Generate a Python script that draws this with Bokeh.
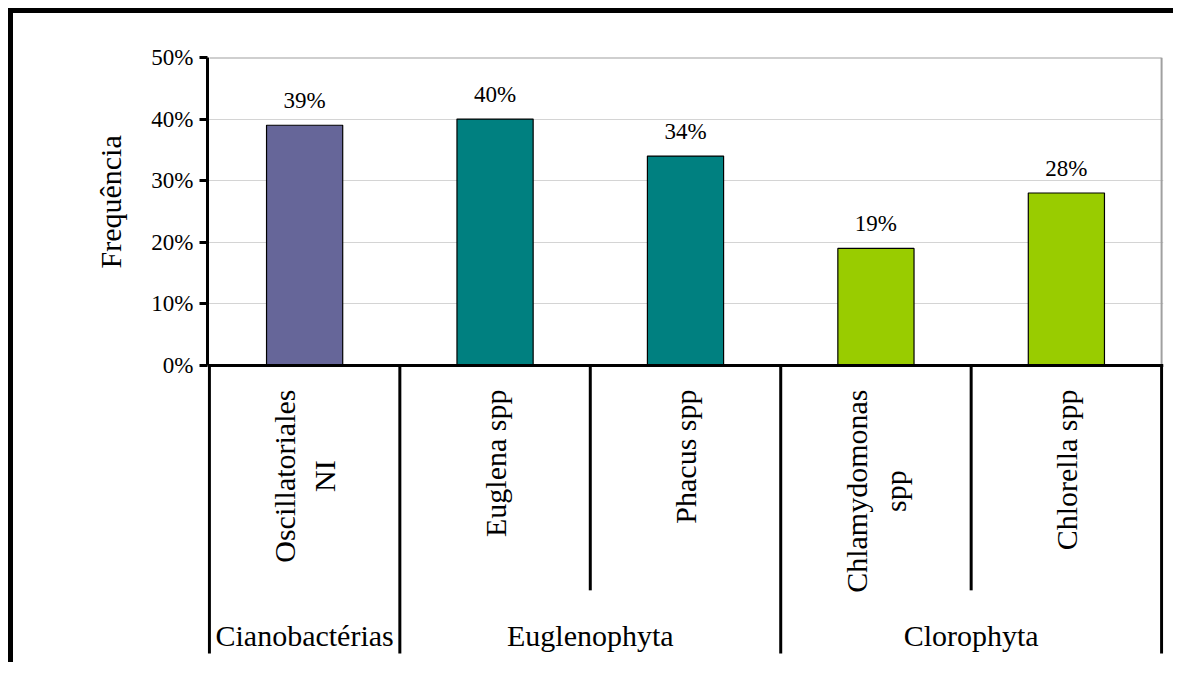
import math
from bokeh.plotting import figure
from bokeh.models import Range1d, FixedTicker, NumeralTickFormatter, ColumnDataSource, Title
from bokeh.core.properties import value
from bokeh.embed import file_html
from bokeh.resources import INLINE

# ---- data ----
species = ["Oscillatoriales\nNI", "Euglena spp", "Phacus spp", "Chlamydomonas\nspp", "Chlorella spp"]
frequency = [0.39, 0.40, 0.34, 0.19, 0.28]
freq_labels = ["39%", "40%", "34%", "19%", "28%"]
groups = ["Cianobactérias", "Euglenophyta", "Clorophyta"]
group_sizes = [1, 2, 2]
group_colors = ["#666699", "#008080", "#99CC00"]
y_ticks = [0.0, 0.1, 0.2, 0.3, 0.4, 0.5]
y_title = "Frequência"

# ---- derived ----
xs = list(range(len(species)))
bar_colors = []
for c, n in zip(group_colors, group_sizes):
    bar_colors += [c] * n
bounds = [-0.5]
for n in group_sizes:
    bounds.append(bounds[-1] + n)
group_centers = [(a + b) / 2 for a, b in zip(bounds[:-1], bounds[1:])]
inner = [x + 0.5 for x in xs[:-1] if (x + 0.5) not in bounds]

FONT = value("Liberation Serif")
W, H = 1165, 654
TOP, LEFT, RIGHT = 44, 194, 15
PX_PER_UNIT = 616.0
frame_h = H - TOP
y0 = 0.5 - frame_h / PX_PER_UNIT

p = figure(width=W, height=H, x_range=Range1d(-0.51, 4.51), y_range=Range1d(y0, 0.5),
           output_backend="svg", toolbar_location=None, x_axis_location=None,
           min_border_left=LEFT, min_border_right=RIGHT, min_border_top=TOP, min_border_bottom=0)
p.styles = {"border-top": "5px solid black", "border-left": "5px solid black",
            "margin-top": "8px", "margin-left": "8px"}
p.outline_line_color = None
p.background_fill_color = "white"
p.border_fill_color = "white"
p.xgrid.visible = False

ticker = FixedTicker(ticks=y_ticks)
ax = p.yaxis[0]
ax.bounds = (0, 0.5)
ax.ticker = ticker
ax.formatter = NumeralTickFormatter(format="0%")
ax.minor_tick_line_color = None
ax.major_tick_in = 0
ax.major_tick_out = 8
ax.major_tick_line_width = 3
ax.major_tick_line_color = "black"
ax.axis_line_width = 3
ax.axis_line_color = "black"
ax.major_label_text_font = "Liberation Serif"
ax.major_label_text_font_size = "23px"
ax.major_label_text_color = "black"
ax.major_label_standoff = 6

g = p.ygrid[0]
g.ticker = ticker
g.grid_line_color = "#d4d4d4"
g.grid_line_width = 1

# y-axis title, placed beside the 0-50% span
p.add_layout(Title(text=y_title, align="left", offset=399, standoff=44,
                   text_font="Liberation Serif", text_font_size="30px",
                   text_font_style="normal", text_color="black"), "left")

# plot-area border (top and right, gray)
p.segment(x0=[bounds[0], bounds[-1]], y0=[0.5, 0.0], x1=[bounds[-1], bounds[-1]], y1=[0.5, 0.5],
          line_color="#a0a0a0", line_width=2)

src = ColumnDataSource(dict(x=xs, top=frequency, color=bar_colors, lab=freq_labels, sp=species))
p.vbar(x="x", top="top", bottom=0, width=0.4, fill_color="color", line_color="black",
       line_width=1.2, source=src)

# category axis line and separators
p.segment(x0=[-0.51], y0=[0], x1=[4.51], y1=[0], line_color="black", line_width=3)
full_bottom = -0.4675
short_bottom = -0.365
p.segment(x0=bounds, y0=[0] * len(bounds), x1=bounds, y1=[full_bottom] * len(bounds),
          line_color="black", line_width=3)
p.segment(x0=inner, y0=[0] * len(inner), x1=inner, y1=[short_bottom] * len(inner),
          line_color="black", line_width=3)

# data labels
p.text(x="x", y="top", text="lab", source=src, text_font=FONT, text_font_size="23px",
       text_align="center", text_baseline="alphabetic", y_offset=-25, text_color="black")

# rotated category labels
p.text(x="x", y=0, text="sp", source=src, text_font=FONT, text_font_size="30px",
       angle=math.pi / 2, anchor="center_right", text_align="center", text_line_height=1.2,
       y_offset=24, text_color="black")

# group labels
p.text(x=group_centers, y=[-0.438] * len(groups), text=groups, text_font=FONT,
       text_font_size="30px", text_align="center", text_baseline="alphabetic", text_color="black")

open("out.html", "w").write(file_html(p, INLINE))
